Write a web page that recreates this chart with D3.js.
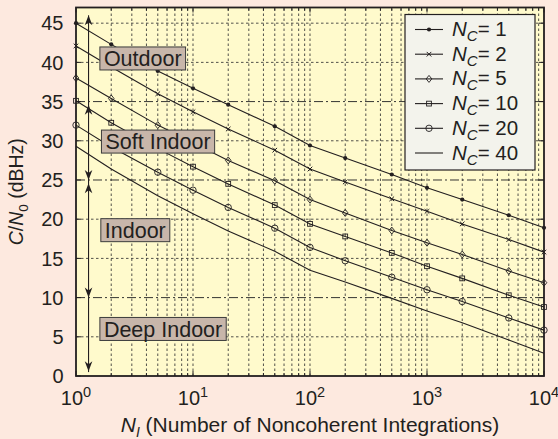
<!DOCTYPE html>
<html>
<head>
<meta charset="utf-8">
<script src="https://cdn.jsdelivr.net/npm/d3@7"></script>
<style>
    body { margin: 0; background: #fde9df; }
    svg { display: block; font-family: "Liberation Sans", Arial, sans-serif; }
</style>
</head>
<body>
<svg id="chart" width="558" height="439"></svg>
<script>

// number of noncoherent integrations (x values)
const nI = [1, 2, 5, 10, 20, 50, 100, 200, 500, 1000, 2000, 5000, 10000];

// C/N0 (dBHz) for each number of coherent integrations
const nc1  = [45.0, 42.3, 38.9, 36.7, 34.6, 31.85, 29.4, 27.8, 25.7, 24.0, 22.5, 20.5, 18.9];
const nc2  = [42.1, 39.4, 36.0, 33.7, 31.5, 28.8, 26.4, 24.75, 22.6, 21.0, 19.4, 17.4, 15.8];
const nc5  = [38.0, 35.4, 32.0, 29.75, 27.5, 24.9, 22.5, 20.8, 18.55, 17.0, 15.5, 13.4, 11.9];
const nc10 = [35.1, 32.3, 29.0, 26.7, 24.5, 21.8, 19.4, 17.8, 15.7, 14.0, 12.45, 10.3, 8.8];
const nc20 = [32.0, 29.2, 26.0, 23.7, 21.5, 18.85, 16.4, 14.7, 12.6, 11.0, 9.5, 7.4, 5.85];
const nc40 = [29.3, 26.4, 23.0, 20.7, 18.5, 15.9, 13.5, 12.0, 9.9, 8.3, 6.8, 4.6, 2.9];

const ncLabels = ["1", "2", "5", "10", "20", "40"];
const ncMarkers = ["dot", "x", "diamond", "square", "circle", "none"];

// y ticks, region boundaries and environment labels
const yTicks = [0, 5, 10, 15, 20, 25, 30, 35, 40, 45];
const boundaries = [10, 25, 35];
const regions = [
    {label: "Outdoor", from: 35, to: 46, center: 40.5, at: 1.6},
    {label: "Soft Indoor", from: 25, to: 35, center: 29.9, at: 1.65},
    {label: "Indoor", from: 10, to: 25, center: 18.6, at: 1.63},
    {label: "Deep Indoor", from: 10, to: 0.5, center: 6.0, at: 1.6}
];

function makePlot() {

    /**********************
    ***** BASIC SETUP *****
    **********************/

    const svg = d3.select("#chart");
    const width = +svg.attr("width");
    const height = +svg.attr("height");
    const margin = {top: 7.5, left: 76, right: 14, bottom: 63};
    const ink = "#231f20";

    const series = [nc1, nc2, nc5, nc10, nc20, nc40].map((vals, i) => ({
        label: ncLabels[i],
        marker: ncMarkers[i],
        values: vals.map((v, j) => ({n: nI[j], c: v}))
    }));

    /***********************
    ***** X & Y SCALES *****
    ***********************/

    const x = d3.scaleLog()
        .domain([1, 1e4])
        .range([margin.left, width - margin.right]);

    const y = d3.scaleLinear()
        .domain([0, 47])
        .range([height - margin.bottom, margin.top]);

    const x0 = x.range()[0], x1 = x.range()[1];
    const y0 = y.range()[0], y1 = y.range()[1];

    /*********************
    ***** BACKGROUND *****
    *********************/

    svg.append("rect")
        .attr("x", x0).attr("y", y1)
        .attr("width", x1 - x0).attr("height", y0 - y1)
        .attr("fill", "#fffacc");

    /*****************
    ***** GRID *****
    *****************/

    const minorX = [];
    for (let k = 0; k < 4; k++) {
        for (let m = 1; m < 10; m++) {
            if (k === 0 && m === 1) continue;
            minorX.push(m * Math.pow(10, k));
        }
    }

    const grid = svg.append("g").attr("class", "grid");

    grid.selectAll(".vgrid")
        .data(minorX)
        .enter()
        .append("line")
        .attr("x1", d => x(d)).attr("x2", d => x(d))
        .attr("y1", y0).attr("y2", y1)
        .attr("stroke", "#333")
        .attr("stroke-width", 0.85)
        .attr("stroke-dasharray", "2.5,2.5");

    grid.selectAll(".hgrid")
        .data(yTicks.filter(d => d > 0 && !boundaries.includes(d)))
        .enter()
        .append("line")
        .attr("x1", x0).attr("x2", x1)
        .attr("y1", d => y(d)).attr("y2", d => y(d))
        .attr("stroke", "#333")
        .attr("stroke-width", 0.85)
        .attr("stroke-dasharray", "2.5,2.5");

    // dash-dot lines for region boundaries
    grid.selectAll(".bound")
        .data(boundaries)
        .enter()
        .append("line")
        .attr("x1", x0).attr("x2", x1)
        .attr("y1", d => y(d)).attr("y2", d => y(d))
        .attr("stroke", "#2a2a2a")
        .attr("stroke-width", 0.95)
        .attr("stroke-dasharray", "9,3,2,3");

    /******************
    ***** SERIES *****
    ******************/

    const line = d3.line()
        .x(d => x(d.n))
        .y(d => y(d.c));

    const plot = svg.append("g").attr("id", "plot");

    plot.selectAll(".series")
        .data(series)
        .enter()
        .append("path")
        .attr("d", d => line(d.values))
        .attr("fill", "none")
        .attr("stroke", ink)
        .attr("stroke-width", 1.1);

    function drawMarker(g, type, cx, cy) {
        if (type === "dot") {
            g.append("circle").attr("cx", cx).attr("cy", cy).attr("r", 2.1)
                .attr("fill", ink);
        } else if (type === "x") {
            const s = 2.3;
            g.append("path")
                .attr("d", `M${cx - s},${cy - s}L${cx + s},${cy + s}M${cx - s},${cy + s}L${cx + s},${cy - s}`)
                .attr("stroke", ink).attr("stroke-width", 1);
        } else if (type === "diamond") {
            const s = 3.5;
            g.append("path")
                .attr("d", `M${cx},${cy - s}L${cx + s * 0.8},${cy}L${cx},${cy + s}L${cx - s * 0.8},${cy}Z`)
                .attr("fill", "none").attr("stroke", ink).attr("stroke-width", 0.9);
        } else if (type === "square") {
            const s = 2.4;
            g.append("rect").attr("x", cx - s).attr("y", cy - s)
                .attr("width", 2 * s).attr("height", 2 * s)
                .attr("fill", "none").attr("stroke", ink).attr("stroke-width", 0.9);
        } else if (type === "circle") {
            g.append("circle").attr("cx", cx).attr("cy", cy).attr("r", 3.2)
                .attr("fill", "none").attr("stroke", ink).attr("stroke-width", 0.9);
        }
    }

    series.forEach(s => {
        const mg = plot.append("g");
        s.values.forEach(d => drawMarker(mg, s.marker, x(d.n), y(d.c)));
    });

    /*******************
    ***** ARROWS *****
    *******************/

    const ax = x(1.28);
    const arrows = svg.append("g").attr("id", "arrows");

    function head(yTip, dir) {
        // dir = -1 points up, +1 points down
        const b = yTip - dir * 10, n = yTip - dir * 7;
        return `M${ax},${yTip}L${ax - 3.8},${b}L${ax},${n}L${ax + 3.8},${b}Z`;
    }

    regions.forEach(r => {
        arrows.append("line")
            .attr("x1", ax).attr("x2", ax)
            .attr("y1", y(r.from)).attr("y2", y(r.to))
            .attr("stroke", ink).attr("stroke-width", 1.1);
    });

    // heads: outdoor up, soft indoor both, indoor both, deep indoor down
    const heads = [
        [y(46), -1], [y(34.6), -1], [y(25), 1],
        [y(24.6), -1], [y(10), 1], [y(0.6), 1]
    ];
    arrows.selectAll(".head")
        .data(heads)
        .enter()
        .append("path")
        .attr("d", d => head(d[0], d[1]))
        .attr("fill", ink);

    /***********************
    ***** REGION LABELS *****
    ***********************/

    const labels = svg.append("g").attr("id", "regionLabels");
    regions.forEach(r => {
        const g = labels.append("g");
        const t = g.append("text")
            .text(r.label)
            .attr("x", x(r.at) + 4)
            .attr("y", y(r.center))
            .attr("dy", "0.36em")
            .attr("font-size", 21.5)
            .attr("fill", ink);
        const bb = t.node().getBBox();
        g.insert("rect", "text")
            .attr("x", bb.x - 4)
            .attr("y", y(r.center) - 11.5)
            .attr("width", bb.width + 8)
            .attr("height", 23)
            .attr("fill", "#c8b6aa")
            .attr("stroke", "#3c3c3c")
            .attr("stroke-width", 1);
    });

    /****************
    ***** AXES *****
    ****************/

    const axes = svg.append("g").attr("id", "axes");

    // inward ticks on all four sides
    const allX = minorX.concat([1, 1e4]);
    axes.selectAll(".xtickB")
        .data(allX)
        .enter()
        .append("line")
        .attr("x1", d => x(d)).attr("x2", d => x(d))
        .attr("y1", y0).attr("y2", d => y0 - (Number.isInteger(Math.log10(d)) ? 5 : 3))
        .attr("stroke", ink);
    axes.selectAll(".xtickT")
        .data(allX)
        .enter()
        .append("line")
        .attr("x1", d => x(d)).attr("x2", d => x(d))
        .attr("y1", y1).attr("y2", d => y1 + (Number.isInteger(Math.log10(d)) ? 5 : 3))
        .attr("stroke", ink);
    axes.selectAll(".ytickL")
        .data(yTicks)
        .enter()
        .append("line")
        .attr("x1", x0).attr("x2", x0 + 5)
        .attr("y1", d => y(d)).attr("y2", d => y(d))
        .attr("stroke", ink);
    axes.selectAll(".ytickR")
        .data(yTicks)
        .enter()
        .append("line")
        .attr("x1", x1).attr("x2", x1 - 5)
        .attr("y1", d => y(d)).attr("y2", d => y(d))
        .attr("stroke", ink);

    axes.append("rect")
        .attr("x", x0).attr("y", y1)
        .attr("width", x1 - x0).attr("height", y0 - y1)
        .attr("fill", "none")
        .attr("stroke", ink)
        .attr("stroke-width", 1.8);

    // y tick labels
    axes.selectAll(".ylab")
        .data(yTicks)
        .enter()
        .append("text")
        .text(d => d)
        .attr("x", x0 - 12.5)
        .attr("y", d => y(d))
        .attr("dy", "0.36em")
        .attr("text-anchor", "end")
        .attr("font-size", 20)
        .attr("fill", ink);

    // x tick labels 10^k
    const xl = axes.selectAll(".xlab")
        .data([1, 10, 100, 1000, 10000])
        .enter()
        .append("text")
        .attr("x", d => x(d))
        .attr("y", y0 + 29)
        .attr("text-anchor", "middle")
        .attr("font-size", 20)
        .attr("fill", ink);
    xl.append("tspan").text("10");
    xl.append("tspan")
        .text(d => Math.round(Math.log10(d)))
        .attr("dy", -8.5)
        .attr("font-size", 14.5);

    // x axis title
    const xt = axes.append("text")
        .attr("x", (x0 + x1) / 2)
        .attr("y", height - 7)
        .attr("text-anchor", "middle")
        .attr("font-size", 21)
        .attr("fill", ink);
    xt.append("tspan").text("N").attr("font-style", "italic");
    xt.append("tspan").text("I").attr("font-style", "italic")
        .attr("font-size", 14).attr("dy", 5);
    xt.append("tspan").text(" (Number of Noncoherent Integrations)").attr("dy", -5);

    // y axis title
    const yt = axes.append("text")
        .attr("transform", `translate(23, ${(y0 + y1) / 2}) rotate(-90)`)
        .attr("text-anchor", "middle")
        .attr("font-size", 19.5)
        .attr("fill", ink);
    yt.append("tspan").text("C").attr("font-style", "italic");
    yt.append("tspan").text("/");
    yt.append("tspan").text("N").attr("font-style", "italic");
    yt.append("tspan").text("0").attr("font-size", 13.5).attr("dy", 5);
    yt.append("tspan").text(" (dBHz)").attr("dy", -5);

    /*****************
    ***** LEGEND *****
    *****************/

    const lx = 405, ly = 14.5, lw = 130, lh = 155.5, rowH = 24.7;
    const legend = svg.append("g").attr("id", "legend");
    legend.append("rect")
        .attr("x", lx).attr("y", ly)
        .attr("width", lw).attr("height", lh)
        .attr("fill", "#f3f3ec")
        .attr("stroke", ink)
        .attr("stroke-width", 1.2);

    series.forEach((s, i) => {
        const cy = ly + 15 + i * rowH;
        legend.append("line")
            .attr("x1", lx + 10).attr("x2", lx + 38)
            .attr("y1", cy).attr("y2", cy)
            .attr("stroke", ink).attr("stroke-width", 1.1);
        drawMarker(legend, s.marker, lx + 24, cy);
        const t = legend.append("text")
            .attr("x", lx + 47)
            .attr("y", cy + 6.5)
            .attr("font-size", 20.5)
            .attr("fill", ink);
        t.append("tspan").text("N").attr("font-style", "italic");
        t.append("tspan").text("C").attr("font-style", "italic")
            .attr("font-size", 15).attr("dy", 5);
        t.append("tspan").text("= " + s.label).attr("dy", -5);
    });
}

makePlot();
</script>
</body>
</html>
